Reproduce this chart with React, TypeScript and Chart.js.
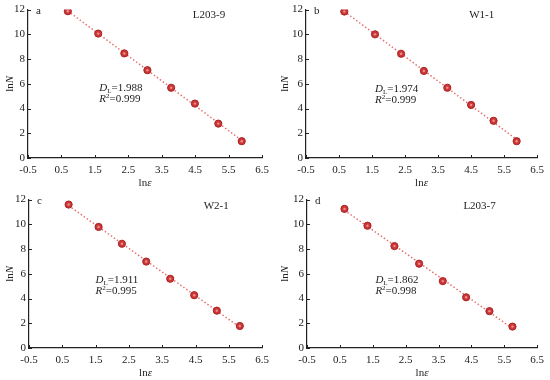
import React, { useEffect, useRef } from "react";
import { Chart, registerables } from "chart.js";

Chart.register(...registerables);

// ---------- data ----------
const xTickValues = [-0.5, 0.5, 1.5, 2.5, 3.5, 4.5, 5.5, 6.5];
const yTickValues = [0, 2, 4, 6, 8, 10, 12];

const panelLetters = ["a", "b", "c", "d"];
const sampleNames = ["L203-9", "W1-1", "W2-1", "L203-7"];
const dlValues = ["1.988", "1.974", "1.911", "1.862"];
const r2Values = ["0.999", "0.999", "0.995", "0.998"];

const lnEpsA = [0.69, 1.6, 2.38, 3.07, 3.78, 4.49, 5.19, 5.89];
const lnNA = [11.87, 10.06, 8.46, 7.1, 5.68, 4.4, 2.78, 1.36];

const lnEpsB = [0.66, 1.59, 2.38, 3.07, 3.78, 4.5, 5.18, 5.88];
const lnNB = [11.84, 10.0, 8.43, 7.04, 5.68, 4.29, 3.01, 1.36];

const lnEpsC = [0.69, 1.59, 2.29, 3.02, 3.74, 4.46, 5.14, 5.83];
const lnNC = [11.6, 9.79, 8.43, 6.99, 5.6, 4.27, 3.02, 1.78];

const lnEpsD = [0.64, 1.34, 2.16, 2.91, 3.63, 4.34, 5.05, 5.75];
const lnND = [11.25, 9.89, 8.24, 6.82, 5.41, 4.1, 2.98, 1.73];

const seriesX = [lnEpsA, lnEpsB, lnEpsC, lnEpsD];
const seriesY = [lnNA, lnNB, lnNC, lnND];

// annotation anchors (data coordinates)
const nameAnchorX = [4.91, 4.82, 5.12, 4.75];
const nameAnchorY = [11.55, 11.55, 11.45, 11.5];
const statAnchorX = [1.63, 1.59, 1.5, 1.58];
const statAnchorY = [5.62, 5.6, 5.5, 5.5];

// ---------- layout / style ----------
const PANEL_W = 275;
const PANEL_H = 190;
const panelPos = [
  [0, 0],
  [275, 0],
  [0, 190],
  [275, 190],
];
const yAxisWidth = [28, 31, 29, 32];
const FONT = "'Liberation Serif', 'Times New Roman', serif";
const INK = "#222222";

function linearFit(xs: number[], ys: number[]) {
  const n = xs.length;
  let sx = 0, sy = 0, sxx = 0, sxy = 0;
  for (let i = 0; i < n; i++) {
    sx += xs[i];
    sy += ys[i];
    sxx += xs[i] * xs[i];
    sxy += xs[i] * ys[i];
  }
  const b = (n * sxy - sx * sy) / (n * sxx - sx * sx);
  const a = (sy - b * sx) / n;
  return { a, b };
}

type Run = { text: string; font: string; dy?: number };

function runsWidth(ctx: CanvasRenderingContext2D, runs: Run[]) {
  let w = 0;
  for (const r of runs) {
    ctx.font = r.font;
    w += ctx.measureText(r.text).width;
  }
  return w;
}

function drawRuns(ctx: CanvasRenderingContext2D, x: number, y: number, runs: Run[]) {
  let cx = x;
  for (const r of runs) {
    ctx.font = r.font;
    ctx.fillText(r.text, cx, y + (r.dy || 0));
    cx += ctx.measureText(r.text).width;
  }
}

function Panel({ idx }: { idx: number }) {
  const ref = useRef<HTMLCanvasElement | null>(null);

  useEffect(() => {
    const canvas = ref.current;
    if (!canvas) return;
    const xs = seriesX[idx];
    const ys = seriesY[idx];
    const fit = linearFit(xs, ys);
    const x0 = xs[0];
    const x1 = xs[xs.length - 1];
    const fitData = [
      { x: x0, y: fit.a + fit.b * x0 },
      { x: x1, y: fit.a + fit.b * x1 },
    ];
    const pts = xs.map((x, i) => ({ x, y: ys[i] }));

    const decor = {
      id: "decor",
      afterDatasetsDraw(chart: any) {
        const ctx: CanvasRenderingContext2D = chart.ctx;
        const meta = chart.getDatasetMeta(0);
        ctx.save();
        ctx.fillStyle = "#ea8f8f";
        meta.data.forEach((el: any) => {
          ctx.beginPath();
          ctx.arc(el.x, el.y, 1.2, 0, Math.PI * 2);
          ctx.fill();
        });
        ctx.restore();
      },
      afterDraw(chart: any) {
        const ctx: CanvasRenderingContext2D = chart.ctx;
        const area = chart.chartArea;
        const sx = chart.scales.x;
        const sy = chart.scales.y;
        ctx.save();
        ctx.strokeStyle = INK;
        ctx.lineWidth = 1;
        sx.ticks.forEach((t: any) => {
          const px = Math.round(sx.getPixelForValue(t.value)) + 0.5;
          ctx.beginPath();
          ctx.moveTo(px, area.bottom);
          ctx.lineTo(px, area.bottom - 3);
          ctx.stroke();
        });
        sy.ticks.forEach((t: any) => {
          const py = Math.round(sy.getPixelForValue(t.value)) + 0.5;
          ctx.beginPath();
          ctx.moveTo(area.left, py);
          ctx.lineTo(area.left + 3, py);
          ctx.stroke();
        });

        ctx.fillStyle = INK;
        ctx.textBaseline = "middle";
        ctx.textAlign = "left";
        const reg = `11px ${FONT}`;
        const ita = `italic 11px ${FONT}`;
        const small = `7px ${FONT}`;

        // panel letter
        drawRuns(ctx, area.left + 8, area.top + 2, [{ text: panelLetters[idx], font: reg }]);

        // sample name
        const nameRuns = [{ text: sampleNames[idx], font: reg }];
        const nw = runsWidth(ctx, nameRuns);
        drawRuns(
          ctx,
          sx.getPixelForValue(nameAnchorX[idx]) - nw / 2,
          sy.getPixelForValue(nameAnchorY[idx]),
          nameRuns
        );

        // statistics
        const stx = sx.getPixelForValue(statAnchorX[idx]);
        const sty = sy.getPixelForValue(statAnchorY[idx]);
        drawRuns(ctx, stx, sty, [
          { text: "D", font: ita },
          { text: "L", font: small, dy: 3 },
          { text: "=" + dlValues[idx], font: reg },
        ]);
        drawRuns(ctx, stx, sty + 11, [
          { text: "R", font: ita },
          { text: "2", font: small, dy: -3 },
          { text: "=" + r2Values[idx], font: reg },
        ]);

        // x title
        const xt = [
          { text: "ln", font: reg },
          { text: "ε", font: ita },
        ];
        const xw = runsWidth(ctx, xt);
        drawRuns(ctx, (area.left + area.right) / 2 - xw / 2, 183, xt);

        // y title
        const yt = [
          { text: "ln", font: reg },
          { text: "N", font: ita },
        ];
        const yw = runsWidth(ctx, yt);
        ctx.translate(10, (area.top + area.bottom) / 2);
        ctx.rotate(-Math.PI / 2);
        drawRuns(ctx, -yw / 2, 0, yt);
        ctx.restore();
      },
    };

    const chart = new Chart(canvas, {
      type: "scatter",
      data: {
        datasets: [
          {
            type: "scatter",
            data: pts,
            pointRadius: 3.6,
            pointBackgroundColor: "#cc3636",
            pointBorderColor: "#a82424",
            pointBorderWidth: 1,
            order: 0,
          } as any,
          {
            type: "line",
            data: fitData,
            borderColor: "#e77070",
            borderWidth: 1.5,
            borderDash: [1.5, 2.2],
            pointRadius: 0,
            fill: false,
            order: 1,
          } as any,
        ],
      },
      options: {
        responsive: false,
        animation: false,
        devicePixelRatio: 1,
        layout: { padding: { left: 0, right: 10, top: 8, bottom: 0 } },
        plugins: { legend: { display: false }, tooltip: { enabled: false } },
        scales: {
          x: {
            type: "linear",
            min: -0.5,
            max: 6.5,
            afterBuildTicks: (s: any) => {
              s.ticks = xTickValues.map((v) => ({ value: v }));
            },
            afterFit: (s: any) => {
              s.height = 32;
            },
            grid: { drawOnChartArea: false, drawTicks: false },
            border: { color: INK, width: 1.2 },
            ticks: {
              padding: 6,
              color: INK,
              autoSkip: false,
              maxRotation: 0,
              font: { family: FONT, size: 11 },
              callback: (v: any) => Number(v).toFixed(1),
            },
          },
          y: {
            type: "linear",
            min: 0,
            max: 12,
            afterBuildTicks: (s: any) => {
              s.ticks = yTickValues.map((v) => ({ value: v }));
            },
            afterFit: (s: any) => {
              s.width = yAxisWidth[idx];
            },
            grid: { drawOnChartArea: false, drawTicks: false },
            border: { color: INK, width: 1.2 },
            ticks: {
              padding: 3,
              color: INK,
              autoSkip: false,
              font: { family: FONT, size: 11 },
              callback: (v: any) => String(v),
            },
          },
        },
      } as any,
      plugins: [decor],
    });
    return () => chart.destroy();
  }, [idx]);

  const [left, top] = panelPos[idx];
  return (
    <canvas
      ref={ref}
      width={PANEL_W}
      height={PANEL_H}
      style={{ position: "absolute", left, top, width: PANEL_W, height: PANEL_H }}
    />
  );
}

export default function App() {
  return (
    <div
      style={{
        position: "absolute",
        left: 0,
        top: 0,
        width: 550,
        height: 380,
        background: "#ffffff",
      }}
    >
      {[0, 1, 2, 3].map((i) => (
        <Panel key={i} idx={i} />
      ))}
    </div>
  );
}
